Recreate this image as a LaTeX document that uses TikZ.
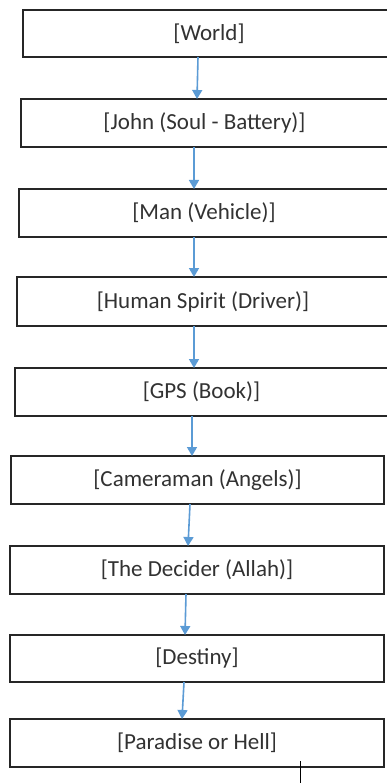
\documentclass[tikz,border=0pt]{standalone}
\usepackage{fontspec}
\setmainfont{Carlito}
\usetikzlibrary{arrows.meta}
\definecolor{arrowblue}{RGB}{91,155,213}
\definecolor{boxline}{RGB}{38,38,38}
\definecolor{textgray}{RGB}{50,50,50}
\tikzset{
  stage/.style={draw=boxline, line width=1.4pt, inner sep=0pt, outer sep=0pt,
    anchor=north west, minimum height=47pt, text=textgray,
    font=\fontsize{23}{27}\selectfont},
  flow/.style={draw=arrowblue, line width=1.6pt, -{Triangle[width=10pt,length=9pt]}}
}
\begin{document}
\begin{tikzpicture}[x=1pt, y=-1pt]
\path[fill=white, use as bounding box] (0,0) rectangle (387,783);

\node[stage, minimum width=372pt] (world) at (23,10) {[World]};
\node[stage, minimum width=367pt, minimum height=48pt] (john) at (21,99) {[John (Soul - Battery)]};
\node[stage, minimum width=370pt, minimum height=48pt] (man) at (19,189) {[Man (Vehicle)]};
\node[stage, minimum width=372pt, minimum height=49pt] (spirit) at (17,277) {[Human Spirit (Driver)]};
\node[stage, minimum width=373pt, minimum height=48pt] (gps) at (15,368) {[GPS (Book)]};
\node[stage, minimum width=373pt, minimum height=48pt] (camera) at (11,456) {[Cameraman (Angels)]};
\node[stage, minimum width=374pt, minimum height=48pt] (decider) at (10,546) {[The Decider (Allah)]};
\node[stage, minimum width=374pt] (destiny) at (10,635) {[Destiny]};
\node[stage, minimum width=374pt, minimum height=48pt] (fate) at (10,719) {[Paradise or Hell]};

% arrows down the chain
\draw[flow] ([xshift=-11pt]world.south) -- ([xshift=-7.5pt]john.north);
\draw[flow] ([xshift=-10.5pt]john.south) -- ([xshift=-10pt]man.north);
\draw[flow] ([xshift=-10pt]man.south) -- ([xshift=-9pt]spirit.north);
\draw[flow] ([xshift=-9pt]spirit.south) -- ([xshift=-7.5pt]gps.north);
\draw[flow] ([xshift=-9.5pt]gps.south) -- ([xshift=-5.5pt]camera.north);
\draw[flow] ([xshift=-7.5pt]camera.south) -- ([xshift=-9pt]decider.north);
\draw[flow] ([xshift=-11pt]decider.south) -- ([xshift=-12pt]destiny.north);
\draw[flow] ([xshift=-13pt]destiny.south) -- ([xshift=-15pt]fate.north);

\coordinate (cut) at (300,761);
\draw[line width=1pt] (cut) -- ++(0,30);
\end{tikzpicture}
\end{document}
